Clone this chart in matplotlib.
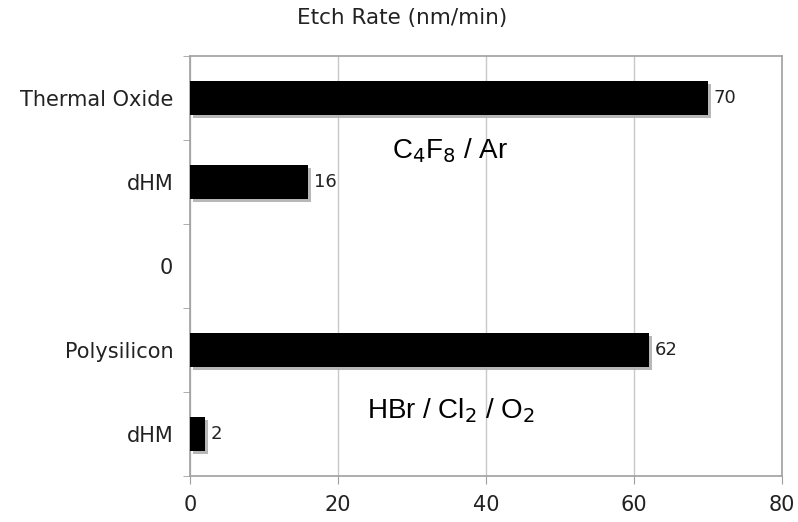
import numpy as np
import matplotlib
matplotlib.use("Agg")
import matplotlib.pyplot as plt
import matplotlib.patheffects as pe

# --- data ---
row_labels = ["Thermal Oxide", "dHM", "0", "Polysilicon", "dHM"]
etch_rates = [70, 16, np.nan, 62, 2]
x_ticks = [0, 20, 40, 60, 80]

GRID_GREY = "#c8c8c8"
SPINE_GREY = "#a0a0a0"
TEXT = "#222222"

fig = plt.figure(figsize=(7.98, 5.22), dpi=100)
ax = fig.add_axes([190 / 798, 1 - 476 / 522, (782 - 190) / 798, (476 - 56) / 522])

ypos = np.arange(len(row_labels))
vals = np.array(etch_rates, dtype=float)
has_bar = ~np.isnan(vals)

# black bars with a soft grey drop shadow
bars = ax.barh(ypos[has_bar], vals[has_bar], height=0.4, color="black",
               zorder=3)
for b in bars:
    b.set_path_effects([pe.SimplePatchShadow(offset=(2, -2), shadow_rgbFace="#b0b0b0", alpha=0.9),
                        pe.Normal()])

# value labels to the right of each bar
for y, v in zip(ypos[has_bar], vals[has_bar]):
    ax.text(v + 0.8, y, f"{v:.0f}", va="center", ha="left",
            fontsize=13, color=TEXT)

ax.set_xlim(0, 80)
ax.set_ylim(len(row_labels) - 0.5, -0.5)
ax.set_xticks(x_ticks)
ax.set_xticklabels([str(t) for t in x_ticks], fontsize=15, color=TEXT)

# category labels sit at row centres, tick marks sit at row boundaries
ax.set_yticks(ypos)
ax.set_yticklabels(row_labels, fontsize=15, color=TEXT)
ax.tick_params(axis="y", length=0, pad=12)
ax.set_yticks(np.arange(len(row_labels) + 1) - 0.5, minor=True)
ax.tick_params(axis="y", which="minor", length=5, color=SPINE_GREY)
ax.tick_params(axis="x", length=6, color=SPINE_GREY, pad=8)

ax.grid(axis="x", color=GRID_GREY, linewidth=1, zorder=0)
ax.set_axisbelow(True)
for s in ax.spines.values():
    s.set_color(SPINE_GREY)
    s.set_linewidth(1.2)

# gas chemistry annotations
ax.text(0.44, 0.775, r"C$_4$F$_8$ / Ar", transform=ax.transAxes,
        fontsize=20, family="Liberation Sans", ha="center", va="center")
ax.text(0.44, 0.155, r"HBr / Cl$_2$ / O$_2$", transform=ax.transAxes,
        fontsize=20, family="Liberation Sans", ha="center", va="center")

fig.text(0.504, 0.965, "Etch Rate (nm/min)", ha="center", va="center",
         fontsize=15.5, color=TEXT)

fig.savefig("out.png", dpi=100)
